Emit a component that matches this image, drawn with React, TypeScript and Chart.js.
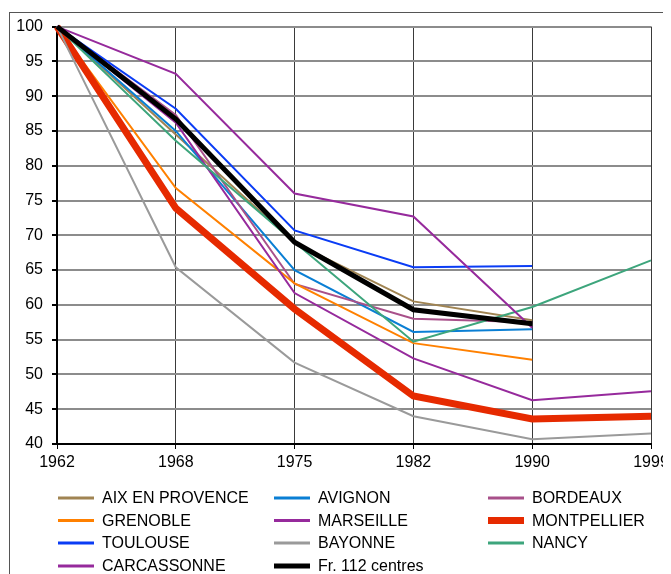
import React, { useEffect, useRef } from "react";
import { Chart, registerables } from "chart.js";

Chart.register(...registerables);

const years = ["1962", "1968", "1975", "1982", "1990", "1999"];
const yTicksMin = 40;
const yTicksMax = 100;
const yTicksStep = 5;

const aixEnProvence = [100, 84.5, 68.9, 60.5, 57.8, null];
const avignon = [100, 85.0, 65.0, 56.1, 56.5, null];
const bordeaux = [100, 87.3, 63.0, 58.0, 57.5, null];
const grenoble = [100, 76.8, 63.1, 54.5, 52.1, null];
const marseille = [100, 86.2, 61.7, 52.3, 46.3, 47.6];
const montpellier = [100, 73.9, 59.4, 46.9, 43.6, 44.0];
const toulouse = [100, 88.2, 70.7, 65.4, 65.6, null];
const bayonne = [100, 65.4, 51.7, 44.0, 40.7, 41.5];
const nancy = [100, 83.6, 69.0, 54.7, 59.7, 66.4];
const carcassonne = [100, 93.2, 76.0, 72.7, 56.7, null];
const france112 = [100, 86.7, 69.0, 59.3, 57.3, null];

const seriesNames = [
  "AIX EN PROVENCE",
  "AVIGNON",
  "BORDEAUX",
  "GRENOBLE",
  "MARSEILLE",
  "MONTPELLIER",
  "TOULOUSE",
  "BAYONNE",
  "NANCY",
  "CARCASSONNE",
  "Fr. 112 centres",
];
const seriesValues = [
  aixEnProvence,
  avignon,
  bordeaux,
  grenoble,
  marseille,
  montpellier,
  toulouse,
  bayonne,
  nancy,
  carcassonne,
  france112,
];
const seriesColors = [
  "#A08452",
  "#0A7FD4",
  "#A8508A",
  "#FF8000",
  "#962A9C",
  "#E62A00",
  "#0A3CF5",
  "#9A9A9A",
  "#3DA57C",
  "#962A9C",
  "#000000",
];
const seriesWidths = [2, 2, 2, 2, 2, 7, 2, 2, 2, 2, 5];
const legendWidths = [3, 3, 3, 3, 3, 7, 3, 3, 3, 3, 5];

const FONT = "'Liberation Sans', Arial, sans-serif";

const legendPlugin = {
  id: "customLegend",
  beforeDraw(chart: any) {
    const ctx = chart.ctx;
    ctx.save();
    ctx.strokeStyle = "#555";
    ctx.lineWidth = 1;
    ctx.strokeRect(1.5, 4.5, 900, 900);
    ctx.restore();
  },
  afterDraw(chart: any) {
    const ctx = chart.ctx;
    const colLine = [50, 266, 480];
    const colText = [94, 310, 524];
    const rowY = [490, 512.5, 535, 558];
    ctx.save();
    ctx.font = `16px ${FONT}`;
    ctx.textBaseline = "middle";
    ctx.fillStyle = "#000";
    seriesNames.forEach((name, i) => {
      const r = Math.floor(i / 3);
      const c = i % 3;
      const y = rowY[r];
      ctx.beginPath();
      ctx.strokeStyle = seriesColors[i];
      ctx.lineWidth = legendWidths[i];
      ctx.lineCap = "butt";
      ctx.moveTo(colLine[c], y);
      ctx.lineTo(colLine[c] + 36, y);
      ctx.stroke();
      ctx.fillText(name, colText[c], y + 1);
    });
    ctx.restore();
  },
};

export default function App() {
  const ref = useRef<HTMLCanvasElement | null>(null);
  useEffect(() => {
    if (!ref.current) return;
    const n = seriesNames.length;
    const chart = new Chart(ref.current, {
      type: "line",
      data: {
        labels: years,
        datasets: seriesNames.map((name, i) => ({
          label: name,
          data: seriesValues[i],
          borderColor: seriesColors[i],
          backgroundColor: seriesColors[i],
          borderWidth: seriesWidths[i],
          pointRadius: 0,
          tension: 0,
          fill: false,
          clip: false as any,
          order: n - i,
        })),
      },
      options: {
        responsive: false,
        animation: false,
        layout: { padding: { top: 16, left: 0, right: 57, bottom: 134 } },
        plugins: {
          legend: { display: false },
          tooltip: { enabled: false },
        },
        scales: {
          x: {
            type: "category",
            offset: false,
            afterFit: (s: any) => {
              s.height = 30;
            },
            grid: {
              color: "#3a3a3a",
              lineWidth: 1,
              tickColor: "#000",
              tickLength: 5,
              drawTicks: true,
            },
            border: { color: "#000", width: 2 },
            ticks: {
              color: "#000",
              font: { size: 16, family: FONT },
              padding: 4,
              maxRotation: 0,
              autoSkip: false,
            },
          },
          y: {
            min: yTicksMin,
            max: yTicksMax,
            afterFit: (s: any) => {
              s.width = 49;
            },
            grid: {
              color: "#8c8c8c",
              lineWidth: 2,
              tickColor: "#000",
              tickLength: 5,
            },
            border: { color: "#000", width: 2 },
            ticks: {
              stepSize: yTicksStep,
              color: "#000",
              font: { size: 16, family: FONT },
              padding: 9,
            },
          },
        },
      },
      plugins: [legendPlugin],
    });
    return () => chart.destroy();
  }, []);
  return (
    <div style={{ width: 663, height: 566, overflow: "hidden", position: "relative" }}>
      <canvas ref={ref} width={700} height={600} style={{ width: 700, height: 600, display: "block" }} />
    </div>
  );
}
